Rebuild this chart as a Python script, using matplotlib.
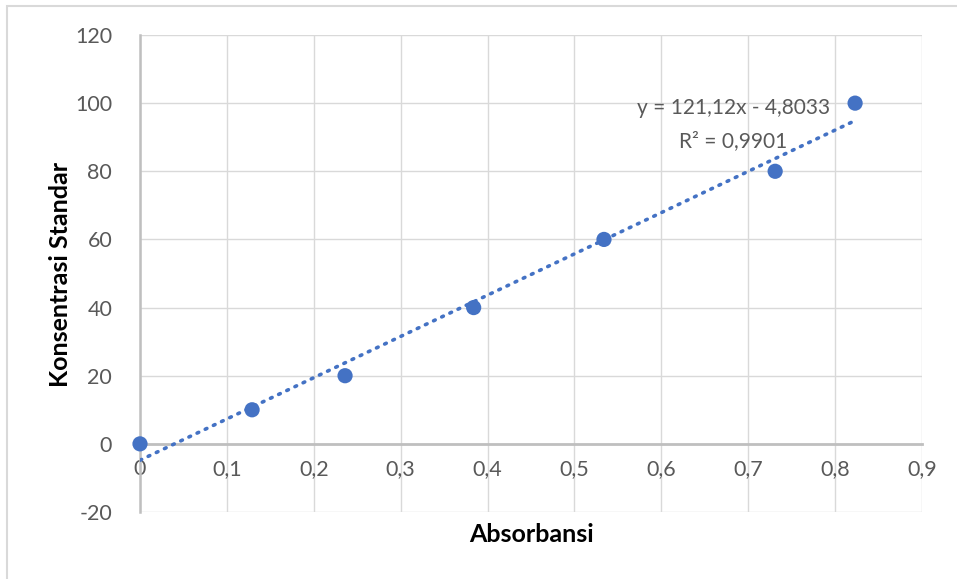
import matplotlib
matplotlib.use("Agg")
import matplotlib.pyplot as plt
import numpy as np
from matplotlib.patches import Rectangle

absorbansi = [0.0, 0.129, 0.236, 0.384, 0.534, 0.731, 0.823]
konsentrasi = [0, 10, 20, 40, 60, 80, 100]
x_ticks = [0, 0.1, 0.2, 0.3, 0.4, 0.5, 0.6, 0.7, 0.8, 0.9]
x_tick_labels = ["0", "0,1", "0,2", "0,3", "0,4", "0,5", "0,6", "0,7", "0,8", "0,9"]
y_ticks = [-20, 0, 20, 40, 60, 80, 100, 120]
slope = 121.12
intercept = -4.8033
r_squared = 0.9901

plt.rcParams["font.family"] = ["Lato", "DejaVu Sans"]
plt.rcParams["axes.unicode_minus"] = False

W, H = 957, 579
fig = plt.figure(figsize=(W / 100, H / 100), dpi=100)
fig.patch.set_facecolor("white")
fig.patches.append(Rectangle((7 / W, -0.05), 1.1, 1 - 6 / H + 0.05,
                             transform=fig.transFigure, fill=False,
                             edgecolor="#d9d9d9", linewidth=1.5))

ax = fig.add_axes([140 / W, (H - 512) / H, (922 - 140) / W, (512 - 35) / H])
ax.set_xlim(0, 0.9)
ax.set_ylim(-20, 120)
ax.set_xticks(x_ticks)
ax.set_xticklabels(x_tick_labels)
ax.set_yticks(y_ticks)
ax.grid(True, color="#d9d9d9", linewidth=1.0)
ax.set_axisbelow(True)

for s in ["top", "right"]:
    ax.spines[s].set_visible(False)
ax.spines["bottom"].set_position(("data", 0))
ax.spines["bottom"].set_color("#bfbfbf")
ax.spines["bottom"].set_linewidth(2)
ax.spines["left"].set_color("#bfbfbf")
ax.spines["left"].set_linewidth(1.8)
ax.tick_params(axis="both", length=0, labelsize=15.5, labelcolor="#595959")
ax.tick_params(axis="x", pad=11)
ax.tick_params(axis="y", pad=20)

# linear trendline
xt = np.array([0, max(absorbansi)])
ax.plot(xt, slope * xt + intercept, color="#4472C4", linewidth=2.6,
        linestyle=(0, (0.5, 2.0)), dash_capstyle="round", zorder=3)

ax.scatter(absorbansi, konsentrasi, s=120, color="#4472C4", zorder=4,
           clip_on=False, edgecolors="none")

ax.text(0.683, 98.5, "y = 121,12x - 4,8033", ha="center", va="center",
        fontsize=15, color="#595959")
ax.text(0.683, 88.8, "R² = 0,9901", ha="center", va="center",
        fontsize=15, color="#595959")

fig.text(532 / W, 1 - 534 / H, "Absorbansi", ha="center", va="center",
         fontsize=18, fontweight="bold", color="black")
fig.text(61 / W, 1 - 274 / H, "Konsentrasi Standar", ha="center", va="center",
         rotation=90, fontsize=18, fontweight="bold", color="black")

fig.savefig("out.png", dpi=100)
